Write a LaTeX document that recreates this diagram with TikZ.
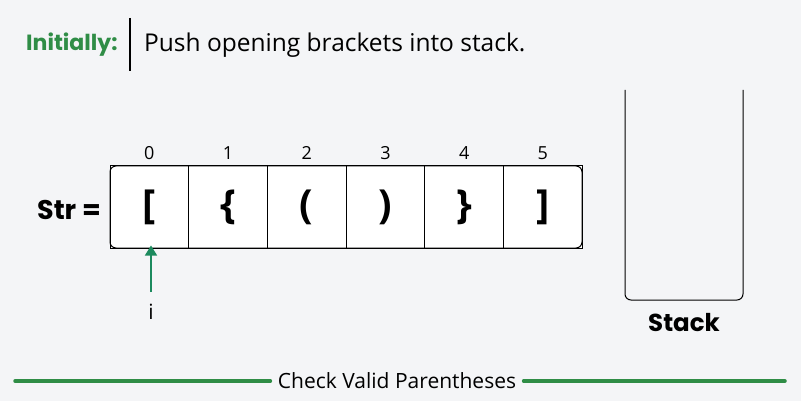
\documentclass[tikz,border=0pt]{standalone}
\usepackage{fontspec}
\setmainfont{Open Sans}
\newfontfamily\popfont{Poppins}
\usetikzlibrary{arrows.meta}
\definecolor{gfgreen}{HTML}{2F8D46}
\definecolor{arrgreen}{HTML}{1C8A5E}
\definecolor{bgcol}{HTML}{F4F5F7}

\begin{document}
\begin{tikzpicture}[x=1pt,y=-1pt,
  cellbox/.style={draw=black,line width=1pt,fill=white,minimum width=78.7pt,minimum height=82pt,inner sep=0pt,font=\fontsize{40}{40}\selectfont\bfseries},
  idxlabel/.style={font=\fontsize{18}{18}\selectfont}]
  \fill[bgcol] (0,0) rectangle (801,401);
  \useasboundingbox (0,0) rectangle (801,401);

  % header
  \node[anchor=west,text=gfgreen,font=\popfont\fontsize{22}{22}\selectfont\bfseries,inner sep=0pt] (init) at (26,45) {Initially:};
  \draw[line width=1.2pt] (130,18) coordinate (sepa) -- (130,71) coordinate (sepb);
  \node[anchor=west,font=\fontsize{24.5}{24.5}\selectfont,inner sep=0pt] (msg) at (144,45) {Push opening brackets into stack.};

  % string cells
  \fill[white,rounded corners=6pt] (110,166) rectangle (582,248);
  \foreach \c [count=\i from 0] in {{\lbrack},{\{},{\char40},{\char41},{\}},{\rbrack}} {
    \pgfmathsetmacro\xx{149.35+78.7*\i}
    \node[cellbox] (c\i) at (\xx,207) {\c};
    \node[idxlabel] (n\i) at (\xx,153) {\i};}
  \draw[line width=1pt,rounded corners=6pt] (110,166) rectangle (582,248);
  \node[anchor=east,font=\popfont\fontsize{27}{27}\selectfont\bfseries,inner sep=0pt] (str) at (101,210) {Str =};

  % pointer
  \node[font=\fontsize{21}{21}\selectfont] (ptr) at (151,312) {i};
  \draw[arrgreen,line width=1.5pt,-{Triangle[width=12pt,length=10pt]}] (151,292) -- ([yshift=3pt]c0.south -| ptr);

  % stack
  \draw[line width=1pt,rounded corners=6pt] (625,90) coordinate (stl) -- (625,300) -- (743,300) -- (743,90) coordinate (str2);
  \node[font=\popfont\fontsize{24.5}{24.5}\selectfont\bfseries] (stk) at (684,323) {Stack};

  % footer
  \node[font=\fontsize{21}{21}\selectfont] (title) at (397,381) {Check Valid Parentheses};
  \coordinate (fl) at (15,381);
  \coordinate (fr) at (785,381);
  \draw[gfgreen,line width=3.5pt,line cap=round] (fl) -- ([xshift=-4pt]title.west);
  \draw[gfgreen,line width=3.5pt,line cap=round] ([xshift=4pt]title.east) -- (fr);
\end{tikzpicture}
\end{document}
